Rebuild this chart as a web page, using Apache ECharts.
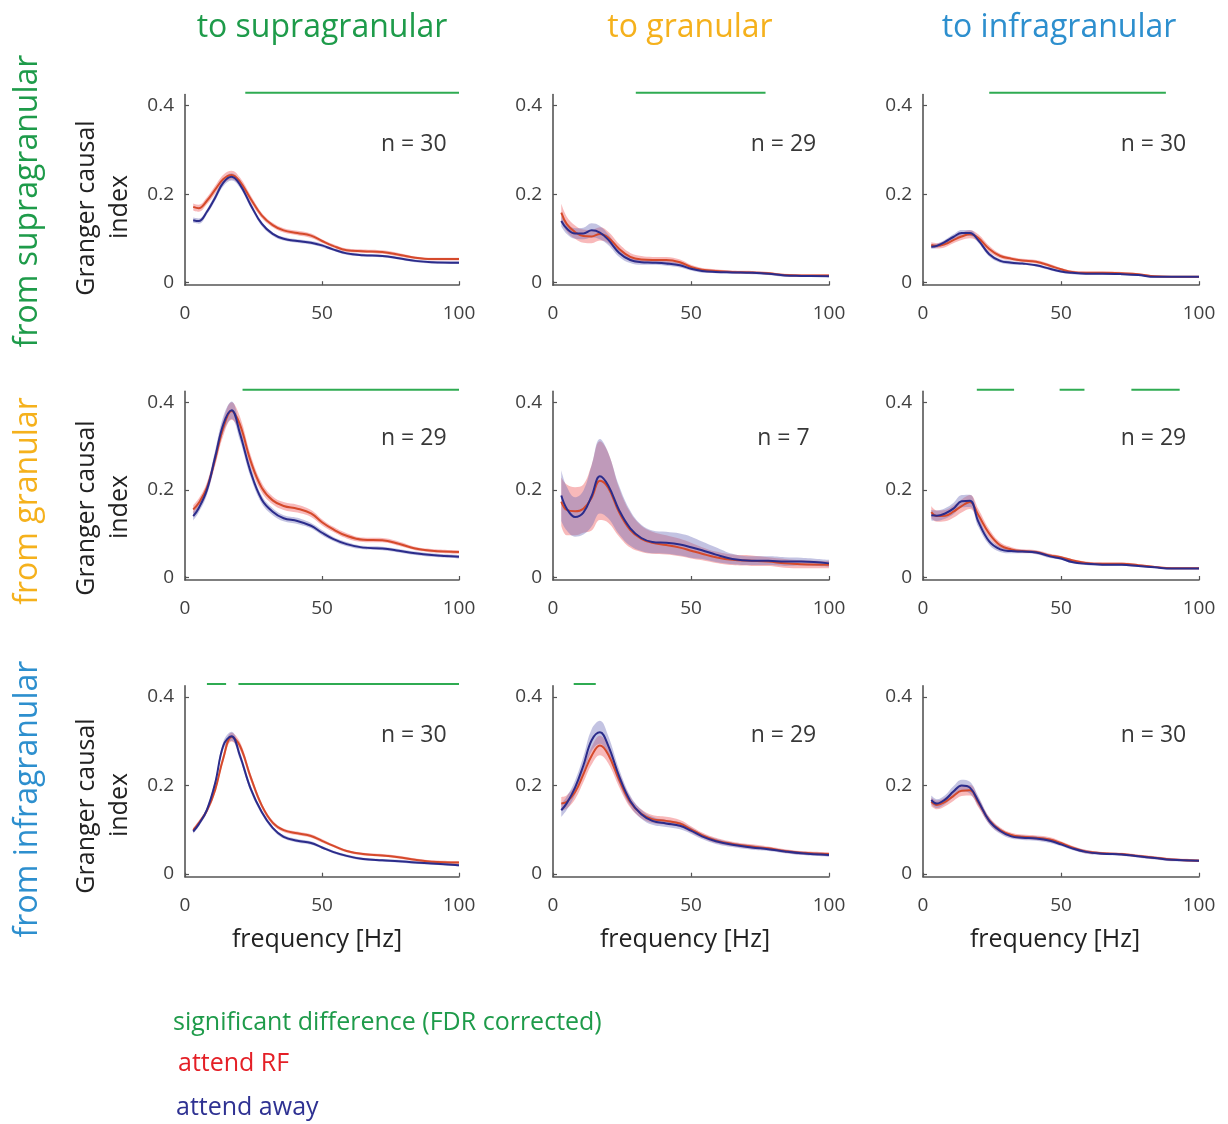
<!DOCTYPE html>
<html>
<head>
<meta charset="utf-8">
<script src="https://cdn.jsdelivr.net/npm/echarts@6/dist/echarts.min.js"></script>
<style>
  html, body { margin: 0; padding: 0; background: #ffffff; }
  #chart { width: 1228px; height: 1124px; }
</style>
</head>
<body>
<div id="chart"></div>
<script>
// Frequency samples (Hz) shared by every panel
const freq = [3, 5, 8, 11, 14, 17, 20, 24, 28, 32, 36, 41, 46, 50, 54, 59, 65, 72, 78, 84, 90, 100];

// Mean Granger causal index, attend RF / attend away, panels in row-major order
// (rows: from supra / granular / infra; columns: to supra / granular / infra)
const rfSupraSupra   = [0.171,0.168,0.185,0.210,0.234,0.243,0.229,0.189,0.152,0.130,0.118,0.112,0.106,0.094,0.083,0.073,0.071,0.069,0.063,0.056,0.053,0.053];
const awaySupraSupra = [0.141,0.139,0.160,0.192,0.226,0.239,0.222,0.175,0.133,0.110,0.099,0.094,0.090,0.084,0.075,0.066,0.062,0.060,0.055,0.049,0.046,0.045];
const rfSupraGran    = [0.158,0.132,0.114,0.105,0.104,0.110,0.102,0.076,0.058,0.052,0.051,0.051,0.046,0.035,0.029,0.026,0.024,0.023,0.021,0.017,0.016,0.016];
const awaySupraGran  = [0.139,0.122,0.111,0.111,0.118,0.113,0.097,0.067,0.051,0.046,0.045,0.043,0.039,0.031,0.026,0.024,0.023,0.022,0.020,0.016,0.015,0.014];
const rfSupraInfra   = [0.085,0.083,0.087,0.096,0.104,0.109,0.101,0.076,0.060,0.054,0.050,0.047,0.038,0.030,0.024,0.022,0.022,0.021,0.019,0.014,0.013,0.013];
const awaySupraInfra = [0.081,0.083,0.092,0.103,0.112,0.112,0.096,0.064,0.049,0.045,0.043,0.039,0.031,0.025,0.022,0.020,0.020,0.019,0.017,0.013,0.013,0.013];
const rfGranSupra    = [0.155,0.170,0.205,0.270,0.342,0.380,0.350,0.265,0.205,0.176,0.163,0.157,0.146,0.126,0.110,0.095,0.086,0.085,0.077,0.066,0.061,0.058];
const awayGranSupra  = [0.140,0.158,0.200,0.275,0.350,0.382,0.330,0.240,0.178,0.150,0.135,0.129,0.118,0.102,0.088,0.076,0.068,0.066,0.061,0.055,0.051,0.047];
const rfGranGran     = [0.173,0.154,0.151,0.157,0.182,0.221,0.205,0.148,0.108,0.088,0.079,0.074,0.068,0.061,0.054,0.046,0.040,0.038,0.036,0.032,0.030,0.029];
const awayGranGran   = [0.187,0.157,0.138,0.148,0.186,0.231,0.210,0.153,0.112,0.090,0.081,0.079,0.075,0.069,0.062,0.052,0.042,0.038,0.038,0.036,0.036,0.032];
const rfGranInfra    = [0.149,0.140,0.141,0.150,0.163,0.172,0.143,0.100,0.073,0.064,0.060,0.058,0.050,0.046,0.039,0.033,0.031,0.031,0.028,0.024,0.021,0.021];
const awayGranInfra  = [0.142,0.141,0.146,0.157,0.174,0.175,0.128,0.082,0.064,0.060,0.059,0.057,0.048,0.043,0.035,0.031,0.029,0.029,0.026,0.023,0.020,0.020];
const rfInfraSupra   = [0.099,0.115,0.143,0.190,0.262,0.309,0.290,0.218,0.155,0.116,0.099,0.092,0.086,0.075,0.064,0.052,0.045,0.042,0.038,0.032,0.028,0.026];
const awayInfraSupra = [0.096,0.112,0.145,0.205,0.290,0.311,0.268,0.192,0.140,0.104,0.084,0.075,0.070,0.060,0.050,0.041,0.034,0.031,0.029,0.026,0.024,0.020];
const rfInfraGran    = [0.159,0.163,0.185,0.225,0.267,0.290,0.270,0.212,0.162,0.136,0.124,0.120,0.114,0.101,0.088,0.076,0.068,0.062,0.058,0.052,0.048,0.045];
const awayInfraGran  = [0.144,0.160,0.195,0.245,0.302,0.320,0.290,0.220,0.165,0.135,0.120,0.114,0.109,0.098,0.085,0.074,0.066,0.060,0.056,0.051,0.047,0.043];
const rfInfraInfra   = [0.163,0.156,0.163,0.176,0.188,0.189,0.162,0.121,0.099,0.088,0.084,0.082,0.078,0.070,0.060,0.051,0.047,0.045,0.041,0.037,0.033,0.030];
const awayInfraInfra = [0.167,0.159,0.168,0.186,0.200,0.195,0.165,0.120,0.097,0.085,0.082,0.080,0.075,0.067,0.058,0.050,0.046,0.044,0.040,0.036,0.032,0.030];

// Standard error of the mean for each curve (same panel order)
const semRfSupraSupra   = [0.008,0.008,0.008,0.009,0.010,0.010,0.009,0.008,0.006,0.005,0.005,0.005,0.005,0.004,0.004,0.004,0.004,0.004,0.004,0.003,0.003,0.003];
const semAwaySupraSupra = [0.006,0.006,0.006,0.007,0.008,0.008,0.007,0.006,0.005,0.004,0.004,0.004,0.004,0.004,0.003,0.003,0.003,0.003,0.003,0.003,0.003,0.003];
const semRfSupraGran    = [0.020,0.017,0.015,0.015,0.015,0.015,0.013,0.011,0.009,0.008,0.007,0.007,0.006,0.005,0.004,0.004,0.003,0.003,0.003,0.003,0.003,0.003];
const semAwaySupraGran  = [0.012,0.012,0.012,0.013,0.016,0.015,0.012,0.009,0.007,0.006,0.005,0.005,0.005,0.004,0.004,0.003,0.003,0.003,0.003,0.003,0.002,0.002];
const semRfSupraInfra   = [0.006,0.006,0.007,0.007,0.008,0.009,0.008,0.007,0.005,0.004,0.004,0.004,0.004,0.003,0.003,0.003,0.003,0.003,0.002,0.002,0.002,0.002];
const semAwaySupraInfra = [0.005,0.005,0.005,0.006,0.007,0.007,0.006,0.005,0.004,0.004,0.003,0.003,0.003,0.003,0.003,0.002,0.002,0.002,0.002,0.002,0.002,0.002];
const semRfGranSupra    = [0.010,0.010,0.012,0.015,0.018,0.020,0.018,0.014,0.011,0.009,0.009,0.009,0.008,0.007,0.006,0.006,0.005,0.005,0.005,0.004,0.004,0.004];
const semAwayGranSupra  = [0.010,0.010,0.012,0.015,0.018,0.020,0.016,0.012,0.009,0.008,0.007,0.007,0.006,0.006,0.005,0.005,0.004,0.004,0.004,0.004,0.004,0.004];
const semRfGranGran     = [0.055,0.058,0.055,0.055,0.075,0.090,0.080,0.055,0.040,0.030,0.025,0.022,0.020,0.018,0.015,0.013,0.012,0.012,0.010,0.010,0.009,0.008];
const semAwayGranGran   = [0.058,0.050,0.045,0.050,0.070,0.085,0.075,0.055,0.040,0.030,0.026,0.025,0.025,0.024,0.020,0.017,0.012,0.010,0.010,0.010,0.009,0.008];
const semRfGranInfra    = [0.014,0.013,0.013,0.014,0.015,0.016,0.014,0.010,0.007,0.005,0.004,0.004,0.004,0.003,0.003,0.003,0.003,0.003,0.002,0.002,0.002,0.002];
const semAwayGranInfra  = [0.012,0.012,0.012,0.013,0.014,0.014,0.012,0.008,0.006,0.005,0.004,0.004,0.004,0.003,0.003,0.003,0.003,0.003,0.002,0.002,0.002,0.002];
const semRfInfraSupra   = [0.005,0.005,0.006,0.007,0.009,0.010,0.009,0.008,0.006,0.005,0.004,0.004,0.004,0.004,0.003,0.003,0.003,0.003,0.003,0.003,0.003,0.003];
const semAwayInfraSupra = [0.005,0.005,0.006,0.007,0.009,0.010,0.009,0.007,0.005,0.004,0.004,0.004,0.004,0.003,0.003,0.003,0.003,0.003,0.003,0.003,0.003,0.003];
const semRfInfraGran    = [0.015,0.015,0.016,0.018,0.020,0.022,0.020,0.016,0.012,0.010,0.009,0.009,0.008,0.007,0.006,0.006,0.005,0.005,0.004,0.004,0.004,0.004];
const semAwayInfraGran  = [0.015,0.015,0.016,0.020,0.025,0.026,0.022,0.016,0.012,0.010,0.009,0.008,0.008,0.007,0.006,0.006,0.005,0.005,0.004,0.004,0.004,0.004];
const semRfInfraInfra   = [0.010,0.010,0.010,0.011,0.012,0.012,0.011,0.008,0.006,0.005,0.005,0.005,0.005,0.004,0.004,0.004,0.003,0.003,0.003,0.003,0.003,0.003];
const semAwayInfraInfra = [0.010,0.010,0.010,0.012,0.013,0.013,0.011,0.008,0.006,0.005,0.005,0.005,0.005,0.004,0.004,0.004,0.003,0.003,0.003,0.003,0.003,0.003];

// Frequency ranges (Hz) with a significant RF vs away difference, FDR corrected
const sigSupraSupra = [[22, 100]];
const sigSupraGran  = [[30, 77]];
const sigSupraInfra = [[24, 88]];
const sigGranSupra  = [[21, 100]];
const sigGranGran   = [];
const sigGranInfra  = [[19.5, 33], [49.5, 58.5], [75.5, 93]];
const sigInfraSupra = [[8, 15], [19.5, 100]];
const sigInfraGran  = [[7.5, 15.5]];
const sigInfraInfra = [];

// Number of recording sites per panel
const siteCounts = [30, 29, 30, 29, 7, 29, 30, 29, 30];

const columnTitles = ['to supragranular', 'to granular', 'to infragranular'];
const rowTitles = ['from supragranular', 'from granular', 'from infragranular'];
const yTicks = [0, 0.2, 0.4];

const panels = [
  { rf: rfSupraSupra, away: awaySupraSupra, semRf: semRfSupraSupra, semAway: semAwaySupraSupra, sig: sigSupraSupra },
  { rf: rfSupraGran,  away: awaySupraGran,  semRf: semRfSupraGran,  semAway: semAwaySupraGran,  sig: sigSupraGran },
  { rf: rfSupraInfra, away: awaySupraInfra, semRf: semRfSupraInfra, semAway: semAwaySupraInfra, sig: sigSupraInfra },
  { rf: rfGranSupra,  away: awayGranSupra,  semRf: semRfGranSupra,  semAway: semAwayGranSupra,  sig: sigGranSupra },
  { rf: rfGranGran,   away: awayGranGran,   semRf: semRfGranGran,   semAway: semAwayGranGran,   sig: sigGranGran },
  { rf: rfGranInfra,  away: awayGranInfra,  semRf: semRfGranInfra,  semAway: semAwayGranInfra,  sig: sigGranInfra },
  { rf: rfInfraSupra, away: awayInfraSupra, semRf: semRfInfraSupra, semAway: semAwayInfraSupra, sig: sigInfraSupra },
  { rf: rfInfraGran,  away: awayInfraGran,  semRf: semRfInfraGran,  semAway: semAwayInfraGran,  sig: sigInfraGran },
  { rf: rfInfraInfra, away: awayInfraInfra, semRf: semRfInfraInfra, semAway: semAwayInfraInfra, sig: sigInfraInfra }
];

// Layout
const colLeft = [185, 553, 923];
const colWidth = [274, 276, 276];
const rowTop = [94.6, 391.4, 685.7];
const rowHeight = [190.6, 188.6, 191];
const Y_MIN = -0.006, Y_MAX = 0.425, SIG_Y = 0.429;
const SMOOTH = 0.4;

const FONT = '"Open Sans", "Noto Sans", sans-serif';
const AXIS_COLOR = '#555555';
const GREEN = '#1e9b4a';
const SIG_GREEN = '#2fab52';
const ORANGE = '#f5b11c';
const BLUE = '#2d8fce';
const RF_LINE = '#d54a2b';
const AWAY_LINE = '#2b2c8b';
const RF_BAND = 'rgba(238, 88, 90, 0.42)';
const AWAY_BAND = 'rgba(112, 112, 186, 0.42)';
const titleColors = [GREEN, ORANGE, BLUE];

// Smoothed path through pixel points, same control-point rule as the line series
function smoothPath(pts, smooth, startCmd) {
  let d = '';
  let prevX, prevY, cpx0, cpy0;
  const n = pts.length;
  for (let k = 0; k < n; k++) {
    const x = pts[k][0], y = pts[k][1];
    if (k === 0) {
      d += startCmd + x + ' ' + y + ' ';
      cpx0 = x; cpy0 = y;
    } else {
      let cpx1, cpy1, nextCpx0, nextCpy0;
      if (k === n - 1) {
        cpx1 = x; cpy1 = y; nextCpx0 = x; nextCpy0 = y;
      } else {
        const nextX = pts[k + 1][0], nextY = pts[k + 1][1];
        let vx = nextX - prevX, vy = nextY - prevY;
        const dx0 = x - prevX, dy0 = y - prevY, dx1 = nextX - x, dy1 = nextY - y;
        const lenPrev = Math.sqrt(dx0 * dx0 + dy0 * dy0);
        const lenNext = Math.sqrt(dx1 * dx1 + dy1 * dy1);
        const ratio = lenNext / (lenNext + lenPrev);
        nextCpx0 = x + vx * smooth * ratio;
        nextCpy0 = y + vy * smooth * ratio;
        nextCpx0 = Math.max(Math.min(nextCpx0, Math.max(nextX, x)), Math.min(nextX, x));
        nextCpy0 = Math.max(Math.min(nextCpy0, Math.max(nextY, y)), Math.min(nextY, y));
        vx = nextCpx0 - x; vy = nextCpy0 - y;
        cpx1 = x - vx * lenPrev / lenNext;
        cpy1 = y - vy * lenPrev / lenNext;
        cpx1 = Math.max(Math.min(cpx1, Math.max(prevX, x)), Math.min(prevX, x));
        cpy1 = Math.max(Math.min(cpy1, Math.max(prevY, y)), Math.min(prevY, y));
        vx = x - cpx1; vy = y - cpy1;
        nextCpx0 = x + vx * lenNext / lenPrev;
        nextCpy0 = y + vy * lenNext / lenPrev;
      }
      d += 'C' + cpx0 + ' ' + cpy0 + ' ' + cpx1 + ' ' + cpy1 + ' ' + x + ' ' + y + ' ';
      cpx0 = nextCpx0; cpy0 = nextCpy0;
    }
    prevX = x; prevY = y;
  }
  return d;
}

// Shaded mean ± SEM band, drawn through the axis scales of panel p
function bandSeries(p, mean, sem, color) {
  return {
    type: 'custom', xAxisIndex: p, yAxisIndex: p, silent: true, z: 1, animation: false,
    data: [[freq[0], mean[0]]],
    renderItem: function (params, api) {
      const upper = freq.map((f, i) => api.coord([f, mean[i] + sem[i]]));
      const lower = freq.map((f, i) => api.coord([f, mean[i] - sem[i]])).reverse();
      const d = smoothPath(upper, SMOOTH, 'M') + smoothPath(lower, SMOOTH, 'L') + 'Z';
      return { type: 'path', shape: { pathData: d }, style: { fill: color, stroke: null } };
    }
  };
}

const grids = [], xAxes = [], yAxes = [], series = [], graphics = [];

panels.forEach((panel, p) => {
  const r = Math.floor(p / 3), c = p % 3;
  grids.push({ left: colLeft[c], top: rowTop[r], width: colWidth[c], height: rowHeight[r], containLabel: false });
  xAxes.push({
    type: 'value', gridIndex: p, min: 0, max: 100, interval: 50,
    axisLine: { show: true, onZero: false, lineStyle: { color: AXIS_COLOR, width: 1.6 } },
    axisTick: { show: true, inside: true, length: 4, lineStyle: { color: AXIS_COLOR, width: 1.2 } },
    axisLabel: { show: true, margin: 19, color: '#404040', fontSize: 19, fontFamily: FONT },
    splitLine: { show: false }
  });
  yAxes.push({
    type: 'value', gridIndex: p, min: Y_MIN, max: Y_MAX,
    axisLine: { show: true, onZero: false, lineStyle: { color: AXIS_COLOR, width: 1.6 } },
    axisTick: { show: true, inside: true, length: 4, customValues: yTicks, lineStyle: { color: AXIS_COLOR, width: 1.2 } },
    axisLabel: {
      show: true, margin: 11, color: '#404040', fontSize: 19, fontFamily: FONT,
      customValues: yTicks, formatter: v => (v === 0 ? '0' : String(+v.toFixed(1)))
    },
    splitLine: { show: false }
  });

  series.push(bandSeries(p, panel.rf, panel.semRf, RF_BAND));
  series.push(bandSeries(p, panel.away, panel.semAway, AWAY_BAND));
  series.push({
    type: 'line', name: 'attend RF', xAxisIndex: p, yAxisIndex: p, symbol: 'none', smooth: SMOOTH, z: 3,
    animation: false, data: freq.map((f, i) => [f, panel.rf[i]]),
    lineStyle: { color: RF_LINE, width: 2 }
  });
  series.push({
    type: 'line', name: 'attend away', xAxisIndex: p, yAxisIndex: p, symbol: 'none', smooth: SMOOTH, z: 4,
    animation: false, data: freq.map((f, i) => [f, panel.away[i]]),
    lineStyle: { color: AWAY_LINE, width: 2 }
  });
  panel.sig.forEach(seg => {
    series.push({
      type: 'line', xAxisIndex: p, yAxisIndex: p, symbol: 'none', clip: false, z: 5, animation: false,
      data: [[seg[0], SIG_Y], [seg[1], SIG_Y]],
      lineStyle: { color: SIG_GREEN, width: 2 }
    });
  });

  // site count label
  graphics.push({
    type: 'text', x: colLeft[c] + 0.835 * colWidth[c], y: [144, 438, 735][r],
    style: { text: 'n = ' + siteCounts[p], fill: '#383838', font: '23px ' + FONT, textAlign: 'center', textVerticalAlign: 'middle' }
  });
});

// Column headers
[322, 690, 1059].forEach((x, c) => {
  graphics.push({
    type: 'text', x: x, y: 28,
    style: { text: columnTitles[c], fill: titleColors[c], font: '32px ' + FONT, textAlign: 'center', textVerticalAlign: 'middle' }
  });
});

// Row headers (rotated) and y-axis names on the first column
[201, 501, 799].forEach((y, r) => {
  graphics.push({
    type: 'text', x: 28, y: y, rotation: Math.PI / 2,
    style: { text: rowTitles[r], fill: titleColors[r], font: '32px ' + FONT, textAlign: 'center', textVerticalAlign: 'middle' }
  });
  graphics.push({
    type: 'text', x: 87, y: y + 7, rotation: Math.PI / 2,
    style: { text: 'Granger causal', fill: '#222222', font: '25px ' + FONT, textAlign: 'center', textVerticalAlign: 'middle' }
  });
  graphics.push({
    type: 'text', x: 120, y: y + 6, rotation: Math.PI / 2,
    style: { text: 'index', fill: '#222222', font: '25px ' + FONT, textAlign: 'center', textVerticalAlign: 'middle' }
  });
});

// x-axis names under the bottom row
[317, 685, 1055].forEach(x => {
  graphics.push({
    type: 'text', x: x, y: 940,
    style: { text: 'frequency [Hz]', fill: '#222222', font: '25px ' + FONT, textAlign: 'center', textVerticalAlign: 'middle' }
  });
});

// Key
graphics.push({ type: 'text', x: 173, y: 1023, style: { text: 'significant difference (FDR corrected)', fill: GREEN, font: '25px ' + FONT, textAlign: 'left', textVerticalAlign: 'middle' } });
graphics.push({ type: 'text', x: 178, y: 1064, style: { text: 'attend RF', fill: '#e41f26', font: '25px ' + FONT, textAlign: 'left', textVerticalAlign: 'middle' } });
graphics.push({ type: 'text', x: 176, y: 1108, style: { text: 'attend away', fill: '#2e3192', font: '25px ' + FONT, textAlign: 'left', textVerticalAlign: 'middle' } });

const chart = echarts.init(document.getElementById('chart'), null, { renderer: 'canvas' });
chart.setOption({
  backgroundColor: '#ffffff',
  animation: false,
  grid: grids,
  xAxis: xAxes,
  yAxis: yAxes,
  series: series,
  graphic: graphics
});
</script>
</body>
</html>
